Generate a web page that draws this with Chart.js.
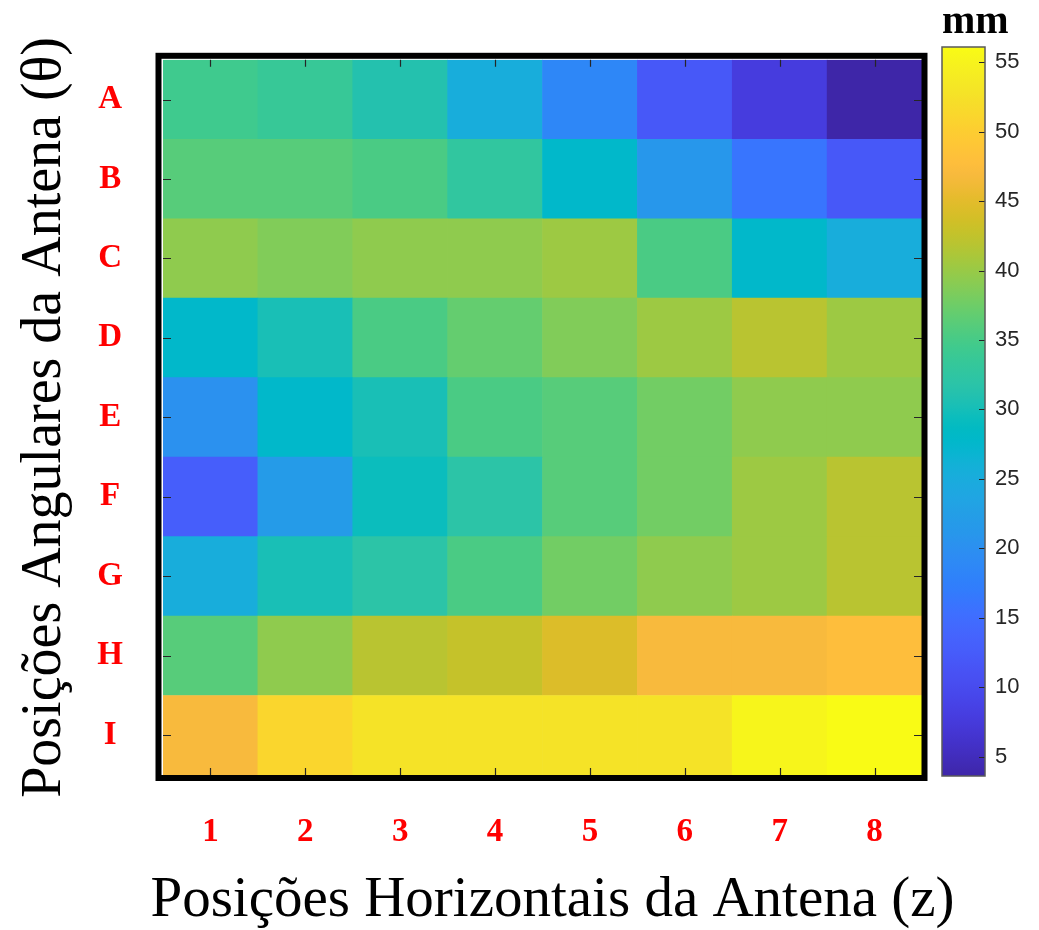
<!DOCTYPE html>
<html>
<head>
<meta charset="utf-8">
<script src="https://cdn.jsdelivr.net/npm/chart.js@4.4.0/dist/chart.umd.min.js"></script>
<style>
  html, body { margin: 0; padding: 0; background: #fff; }
  #wrap { position: relative; width: 1039px; height: 930px; }
  #heatWrap { position: absolute; left: 0; top: 0; }
  #barWrap { position: absolute; left: 935px; top: 0; }
</style>
</head>
<body>
<div id="wrap">
  <div id="heatWrap"><canvas id="heatChart" width="1039" height="930"></canvas></div>
  <div id="barWrap"><canvas id="colorbarChart" width="104" height="930"></canvas></div>
</div>
<script>
// columns (z) and rows (theta), values in mm
const colLabels = ['1', '2', '3', '4', '5', '6', '7', '8'];
const rowLabels = ['A', 'B', 'C', 'D', 'E', 'F', 'G', 'H', 'I'];

const rowA = [34.7, 33.5, 31.4, 25.3, 18.7, 12.2, 7.8, 3.6];
const rowB = [36.4, 36.2, 35.1, 33.1, 27.7, 20.9, 16.3, 12.4];
const rowC = [39.5, 38.4, 39.3, 39.3, 40.0, 35.0, 27.8, 25.1];
const rowD = [27.8, 30.0, 34.8, 36.7, 38.4, 40.0, 41.4, 40.0];
const rowE = [20.4, 27.8, 30.2, 34.8, 36.2, 37.6, 39.0, 39.0];
const rowF = [13.4, 22.4, 29.4, 32.1, 35.8, 37.7, 40.0, 42.1];
const rowG = [25.7, 30.2, 31.8, 34.8, 37.3, 39.0, 40.1, 42.1];
const rowH = [36.3, 39.3, 41.7, 42.7, 43.9, 46.6, 46.5, 47.8];
const rowI = [46.6, 50.5, 52.8, 52.7, 52.0, 52.7, 54.8, 56.1];

const colorbarTicks = [5, 10, 15, 20, 25, 30, 35, 40, 45, 50, 55];

const xTitle = 'Posições Horizontais da Antena (z)';
const yTitle = 'Posições Angulares da Antena (θ)';

const rows = [rowA, rowB, rowC, rowD, rowE, rowF, rowG, rowH, rowI];
const zMin = Math.min(...rows.flat());
const zMax = Math.max(...rows.flat());

// MATLAB parula, 64 entries
const PARULA = [
  [0.2422,0.1504,0.6603],[0.2504,0.1650,0.7076],[0.2578,0.1818,0.7511],[0.2647,0.1978,0.7952],
  [0.2706,0.2147,0.8364],[0.2751,0.2342,0.8710],[0.2783,0.2559,0.8991],[0.2803,0.2782,0.9221],
  [0.2813,0.3006,0.9414],[0.2810,0.3228,0.9579],[0.2795,0.3447,0.9717],[0.2760,0.3667,0.9829],
  [0.2699,0.3892,0.9906],[0.2602,0.4123,0.9952],[0.2440,0.4358,0.9988],[0.2206,0.4603,0.9973],
  [0.1963,0.4847,0.9892],[0.1834,0.5074,0.9798],[0.1786,0.5289,0.9682],[0.1764,0.5499,0.9520],
  [0.1687,0.5703,0.9359],[0.1540,0.5902,0.9218],[0.1460,0.6091,0.9079],[0.1380,0.6276,0.8973],
  [0.1248,0.6459,0.8883],[0.1113,0.6635,0.8763],[0.0952,0.6798,0.8598],[0.0689,0.6948,0.8394],
  [0.0297,0.7082,0.8163],[0.0036,0.7203,0.7917],[0.0067,0.7312,0.7660],[0.0433,0.7411,0.7394],
  [0.0964,0.7500,0.7120],[0.1408,0.7584,0.6842],[0.1717,0.7670,0.6554],[0.1938,0.7758,0.6251],
  [0.2161,0.7843,0.5923],[0.2470,0.7918,0.5567],[0.2906,0.7973,0.5188],[0.3406,0.8008,0.4789],
  [0.3909,0.8029,0.4354],[0.4456,0.8024,0.3909],[0.5044,0.7993,0.3480],[0.5616,0.7942,0.3045],
  [0.6174,0.7876,0.2612],[0.6720,0.7793,0.2227],[0.7242,0.7698,0.1910],[0.7738,0.7598,0.1646],
  [0.8203,0.7498,0.1535],[0.8634,0.7406,0.1596],[0.9035,0.7330,0.1774],[0.9393,0.7288,0.2100],
  [0.9728,0.7298,0.2394],[0.9956,0.7434,0.2371],[0.9970,0.7659,0.2199],[0.9952,0.7893,0.2028],
  [0.9892,0.8136,0.1885],[0.9786,0.8386,0.1766],[0.9676,0.8639,0.1643],[0.9610,0.8890,0.1537],
  [0.9597,0.9135,0.1423],[0.9628,0.9373,0.1265],[0.9691,0.9606,0.1064],[0.9769,0.9839,0.0805]
];

function rgbOf(c) {
  return `rgb(${Math.round(c[0] * 255)},${Math.round(c[1] * 255)},${Math.round(c[2] * 255)})`;
}

function parulaColor(v) {
  let i = Math.floor((v - zMin) / (zMax - zMin) * PARULA.length);
  i = Math.max(0, Math.min(PARULA.length - 1, i));
  return rgbOf(PARULA[i]);
}

const serif = '"Liberation Serif", "Times New Roman", serif';

// heatmap cells as floating bars, row A on top
const cells = [];
rows.forEach((row, r) => {
  const yIdx = rowLabels.length - 1 - r;
  row.forEach((z, c) => {
    cells.push({ x: colLabels[c], y: [yIdx, yIdx + 1], z: z });
  });
});

const frameAndTicks = {
  id: 'frameAndTicks',
  afterDatasetsDraw(chart) {
    const { ctx, chartArea: a, scales: { x, y } } = chart;
    ctx.save();
    ctx.strokeStyle = '#262626';
    ctx.lineWidth = 1.2;
    ctx.beginPath();
    x.ticks.forEach((t, i) => {
      const px = Math.round(x.getPixelForTick(i)) + 0.5;
      ctx.moveTo(px, a.top); ctx.lineTo(px, a.top + 7);
      ctx.moveTo(px, a.bottom); ctx.lineTo(px, a.bottom - 7);
    });
    y.ticks.forEach((t, i) => {
      const py = Math.round(y.getPixelForTick(i)) + 0.5;
      ctx.moveTo(a.left, py); ctx.lineTo(a.left + 8, py);
      ctx.moveTo(a.right, py); ctx.lineTo(a.right - 8, py);
    });
    ctx.stroke();
    ctx.lineWidth = 6;
    ctx.strokeStyle = '#000';
    ctx.strokeRect(a.left - 4.5, a.top - 4, a.width + 7, a.height + 7);

    // x axis title, wider than the plot so drawn here without squeezing
    ctx.fillStyle = '#000';
    ctx.font = '57px ' + serif;
    ctx.textAlign = 'center';
    ctx.textBaseline = 'middle';
    ctx.fillText(xTitle, (a.left + a.right) / 2 + 10, 901);
    ctx.restore();
  }
};

new Chart(document.getElementById('heatChart'), {
  type: 'bar',
  data: {
    labels: colLabels,
    datasets: [{
      data: cells,
      backgroundColor: ctx => parulaColor(ctx.raw.z),
      borderWidth: 0,
      barPercentage: 1,
      categoryPercentage: 1
    }]
  },
  options: {
    responsive: false,
    animation: false,
    layout: { padding: { left: 0, top: 48, right: 117, bottom: 0 } },
    plugins: { legend: { display: false }, tooltip: { enabled: false } },
    scales: {
      x: {
        type: 'category',
        grid: { display: false, drawTicks: false },
        border: { display: false },
        ticks: { color: '#ff0000', font: { family: serif, size: 33, weight: 'bold' }, padding: 38 },
        afterFit: s => { s.height = 155; }
      },
      y: {
        type: 'linear',
        min: 0,
        max: rowLabels.length,
        grid: { display: false, drawTicks: false },
        border: { display: false },
        afterBuildTicks: s => { s.ticks = rowLabels.map((_, i) => ({ value: i + 0.5 })); },
        ticks: {
          autoSkip: false,
          crossAlign: 'center',
          color: '#ff0000',
          font: { family: serif, size: 33, weight: 'bold' },
          padding: 40,
          callback: v => rowLabels[rowLabels.length - 1 - Math.floor(v)]
        },
        title: {
          display: true,
          text: yTitle,
          color: '#000',
          font: { family: serif, size: 56, lineHeight: 1 },
          padding: { top: 17, bottom: 0 }
        },
        afterFit: s => { s.width = 163; }
      }
    }
  },
  plugins: [frameAndTicks]
});

// colorbar
const colorbarDecor = {
  id: 'colorbarDecor',
  afterDatasetsDraw(chart) {
    const { ctx, chartArea: a, scales: { y } } = chart;
    ctx.save();
    ctx.strokeStyle = '#262626';
    ctx.lineWidth = 1.2;
    ctx.beginPath();
    y.ticks.forEach((t, i) => {
      const py = Math.round(y.getPixelForTick(i)) + 0.5;
      ctx.moveTo(a.right - 6, py); ctx.lineTo(a.right, py);
    });
    ctx.stroke();
    ctx.strokeStyle = '#5a5a5a';
    ctx.lineWidth = 1.5;
    ctx.strokeRect(a.left, a.top, a.width, a.height);
    ctx.restore();
  }
};

new Chart(document.getElementById('colorbarChart'), {
  type: 'bar',
  data: {
    labels: ['mm'],
    datasets: [{
      data: [[zMin, zMax]],
      backgroundColor: ctx => {
        const a = ctx.chart.chartArea;
        if (!a) return null;
        const g = ctx.chart.ctx.createLinearGradient(0, a.bottom, 0, a.top);
        const n = PARULA.length;
        PARULA.forEach((c, i) => g.addColorStop(i / (n - 1), rgbOf(c)));
        return g;
      },
      borderWidth: 0,
      barPercentage: 1,
      categoryPercentage: 1
    }]
  },
  options: {
    responsive: false,
    animation: false,
    layout: { padding: { left: 7, top: 0, right: 0, bottom: 154 } },
    plugins: {
      legend: { display: false },
      tooltip: { enabled: false },
      title: {
        display: true,
        text: 'mm',
        align: 'start',
        color: '#000',
        font: { family: serif, size: 40, weight: 'bold', lineHeight: 1 },
        padding: { top: 3, bottom: 4 }
      }
    },
    scales: {
      x: { display: false },
      y: {
        position: 'right',
        min: zMin,
        max: zMax,
        grid: { display: false, drawTicks: false },
        border: { display: false },
        afterBuildTicks: s => { s.ticks = colorbarTicks.map(v => ({ value: v })); },
        ticks: { color: '#262626', font: { family: '"Liberation Sans", Arial, sans-serif', size: 22 }, padding: 10 },
        afterFit: s => { s.width = 54; }
      }
    }
  },
  plugins: [colorbarDecor]
});
</script>
</body>
</html>
